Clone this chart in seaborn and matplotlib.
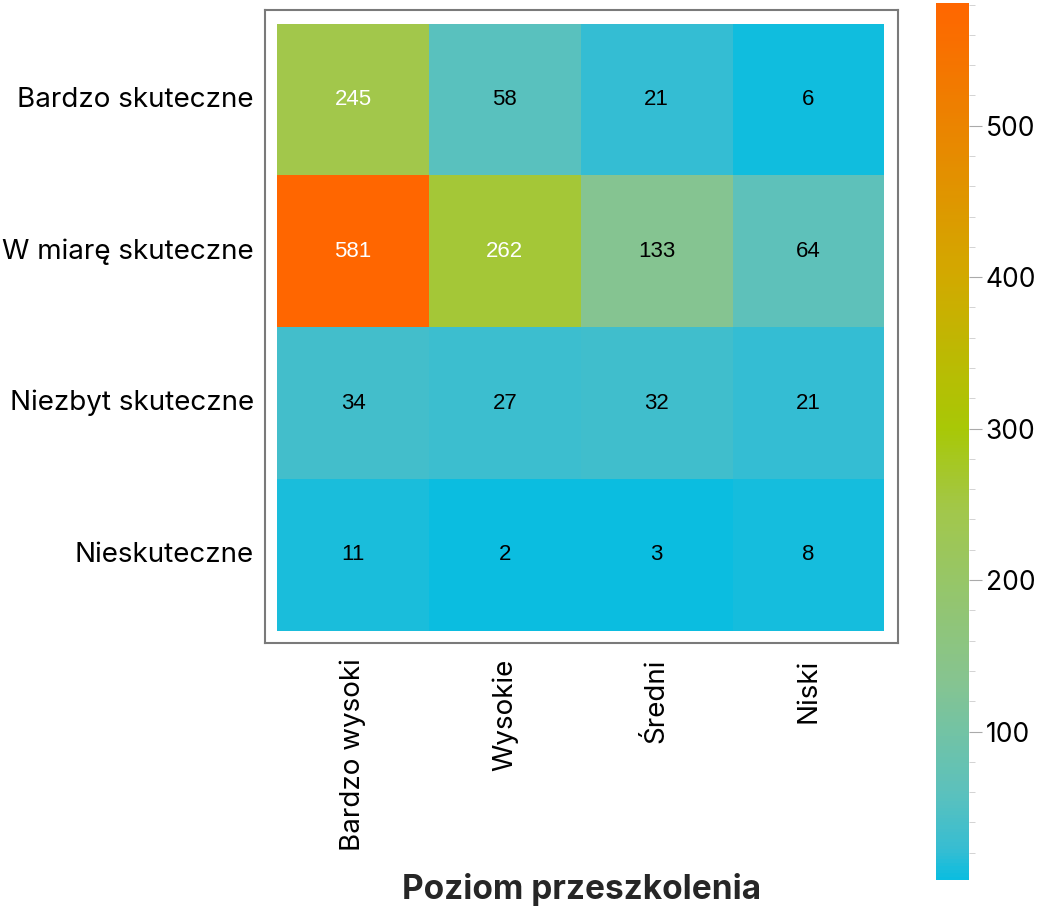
import numpy as np
import pandas as pd
import matplotlib
matplotlib.use("Agg")
import matplotlib.pyplot as plt
import seaborn as sns
from matplotlib.colors import LinearSegmentedColormap
from matplotlib.ticker import MultipleLocator

# Data
effectiveness = ["Bardzo skuteczne", "W miarę skuteczne", "Niezbyt skuteczne", "Nieskuteczne"]
training = ["Bardzo wysoki", "Wysokie", "Średni", "Niski"]
counts = [
    [245, 58, 21, 6],
    [581, 262, 133, 64],
    [34, 27, 32, 21],
    [11, 2, 3, 8],
]

df = pd.DataFrame(counts, index=effectiveness, columns=training)

sns.set_style("white")
plt.rcParams["font.family"] = ["Inter", "DejaVu Sans"]
plt.rcParams["text.color"] = "black"
plt.rcParams["xtick.labelcolor"] = "black"
plt.rcParams["ytick.labelcolor"] = "black"

# custom ramp: cyan -> teal -> green -> yellow-green -> gold -> orange
cmap = LinearSegmentedColormap.from_list(
    "custom",
    [(0.0, "#0bbde0"), (0.033, "#36bdd2"), (0.097, "#5bc1bd"),
     (0.226, "#86c490"), (0.42, "#a2c74b"), (0.515, "#a8c806"),
     (0.69, "#d2a900"), (1.0, "#ff6600")],
)

fig = plt.figure(figsize=(10.38, 9.07), dpi=100)
ax = fig.add_axes([0.2553, 0.2911, 0.6098, 0.6979])
cax = fig.add_axes([0.9017, 0.0298, 0.0318, 0.9669])

sns.heatmap(df, ax=ax, cbar_ax=cax, cmap=cmap, vmin=2, vmax=581,
            annot=True, fmt="d",
            annot_kws={"fontsize": 16, "family": "Liberation Sans"})

# white text on the brightest cells
for txt in ax.texts:
    txt.set_color("white" if int(txt.get_text()) > 200 else "black")

ax.set_xlim(-0.08, 4.09)
ax.set_ylim(4.08, -0.09)
for sp in ax.spines.values():
    sp.set_visible(True)
    sp.set_color("#7a7a7a")
    sp.set_linewidth(1.5)

ax.tick_params(axis="x", direction="in", length=8, width=1, color="#7a7a7a",
               labelsize=20, rotation=90, pad=11)
ax.tick_params(axis="y", direction="out", length=7, width=1, color="#7a7a7a",
               labelsize=20, rotation=0, pad=1)
ax.set_xlabel("Poziom przeszkolenia", fontsize=24, fontweight="bold", labelpad=16)
ax.set_ylabel("")

cax.yaxis.set_major_locator(MultipleLocator(100))
cax.yaxis.set_minor_locator(MultipleLocator(20))
cax.tick_params(which="major", length=9, width=0.8, color="#aaaaaa", labelsize=19, pad=3)
cax.tick_params(which="minor", length=4, width=0.6, color="#cccccc")
cax.minorticks_on()
for sp in cax.spines.values():
    sp.set_visible(False)

fig.savefig("out.png", dpi=100)
